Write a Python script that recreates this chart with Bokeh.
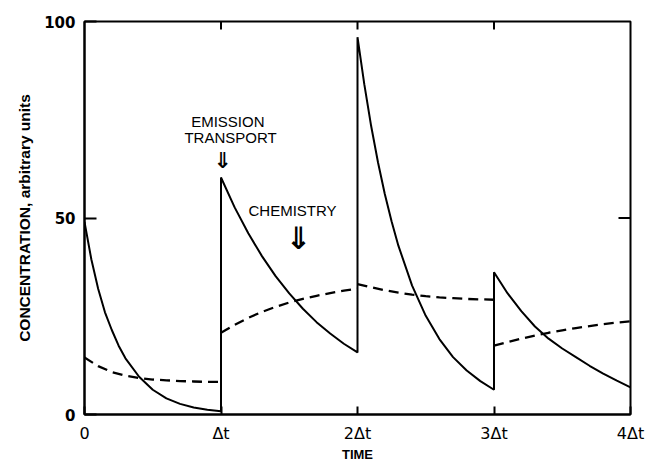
from bokeh.plotting import figure
from bokeh.models import Range1d, FixedTicker
from bokeh.embed import file_html
from bokeh.resources import INLINE
from bokeh.core.properties import value

# ---- data (time in units of Δt, concentration in arbitrary units) ----
solid_t0 = [0.0, 0.05, 0.1, 0.15, 0.2, 0.25, 0.3, 0.4, 0.5, 0.6, 0.7, 0.8, 0.9, 1.0]
solid_c0 = [49, 39.5, 32, 26, 21.5, 17.5, 14.3, 9.6, 6.3, 4.1, 2.7, 1.8, 1.2, 0.8]
solid_t1 = [1.0, 1.1, 1.2, 1.3, 1.4, 1.5, 1.6, 1.7, 1.8, 1.9, 2.0]
solid_c1 = [60.3, 52.7, 46.1, 40.3, 35.2, 30.8, 26.9, 23.5, 20.6, 18.0, 15.8]
solid_t2 = [2.0, 2.05, 2.1, 2.15, 2.2, 2.25, 2.3, 2.4, 2.5, 2.6, 2.7, 2.8, 2.9, 3.0]
solid_c2 = [96, 84, 73.4, 64.2, 56.1, 49.1, 42.9, 32.8, 25.1, 19.2, 14.6, 11.2, 8.5, 6.3]
solid_t3 = [3.0, 3.1, 3.2, 3.3, 3.4, 3.5, 3.6, 3.7, 3.8, 3.9, 4.0]
solid_c3 = [36.2, 30.8, 26.3, 22.4, 19.3, 16.8, 14.6, 12.4, 10.4, 8.6, 6.9]

dashed_t0 = [0.0, 0.1, 0.2, 0.3, 0.4, 0.5, 0.6, 0.7, 0.8, 0.9, 1.0]
dashed_c0 = [14.5, 12.3, 10.8, 9.9, 9.3, 8.9, 8.7, 8.5, 8.4, 8.3, 8.3]
dashed_t1 = [1.0, 1.1, 1.2, 1.3, 1.4, 1.5, 1.6, 1.7, 1.8, 1.9, 2.0]
dashed_c1 = [20.8, 22.8, 24.6, 26.1, 27.4, 28.5, 29.4, 30.2, 30.9, 31.5, 32.0]
dashed_t2 = [2.0, 2.1, 2.2, 2.3, 2.4, 2.5, 2.6, 2.7, 2.8, 2.9, 3.0]
dashed_c2 = [33.2, 32.4, 31.6, 31.0, 30.5, 30.1, 29.8, 29.6, 29.4, 29.3, 29.2]
dashed_t3 = [3.0, 3.1, 3.2, 3.3, 3.4, 3.5, 3.6, 3.7, 3.8, 3.9, 4.0]
dashed_c3 = [17.5, 18.4, 19.3, 20.1, 20.8, 21.4, 22.0, 22.5, 23.0, 23.4, 23.7]

x_ticks = [0, 1, 2, 3, 4]
x_tick_labels = ["0", "Δt", "2Δt", "3Δt", "4Δt"]
y_ticks = [0, 50, 100]

X_MIN, X_MAX = 0, 4
Y_MIN, Y_MAX = 0, 100

# ---- figure ----
W, H = 647, 465
BL, BR, BT, BB = 84, 17, 21, 51
p = figure(width=W, height=H, output_backend="svg", toolbar_location=None,
           x_range=Range1d(X_MIN, X_MAX), y_range=Range1d(Y_MIN, Y_MAX),
           min_border_left=BL, min_border_right=BR, min_border_top=BT, min_border_bottom=BB)
p.background_fill_color = "white"
p.border_fill_color = "white"
p.outline_line_color = "black"
p.outline_line_width = 2
p.xgrid.visible = False
p.ygrid.visible = False

# solid curve (with vertical jumps)
sx = solid_t0 + solid_t1 + solid_t2 + solid_t3
sy = solid_c0 + solid_c1 + solid_c2 + solid_c3
p.line(sx, sy, line_color="black", line_width=2)

# dashed curve (separate per interval)
p.multi_line([dashed_t0, dashed_t1, dashed_t2, dashed_t3],
             [dashed_c0, dashed_c1, dashed_c2, dashed_c3],
             line_color="black", line_width=2.3, line_dash="10 6")

# ---- axes ----
xa = p.xaxis[0]
xa.ticker = FixedTicker(ticks=x_ticks)
xa.major_label_overrides = {t: l for t, l in zip(x_ticks, x_tick_labels)}
xa.axis_label = "TIME"
ya = p.yaxis[0]
ya.ticker = FixedTicker(ticks=y_ticks)
ya.axis_label = "CONCENTRATION, arbitrary units"

for ax in (xa, ya):
    ax.axis_line_width = 2
    ax.axis_line_color = "black"
    ax.major_tick_out = 0
    ax.minor_tick_out = 0
    ax.minor_tick_in = 0
    ax.major_tick_line_width = 2
    ax.major_label_text_color = "black"
    ax.axis_label_text_color = "black"
    ax.axis_label_text_font_style = "bold"

xa.major_tick_in = 8
xa.major_label_standoff = 9
xa.major_label_text_font = "DejaVu Sans"
xa.major_label_text_font_size = "16px"
xa.axis_label_text_font = "Liberation Sans"
xa.axis_label_text_font_size = "13px"
xa.axis_label_standoff = 1

ya.major_tick_in = 12
ya.major_label_standoff = 9
ya.major_label_text_font = "DejaVu Sans"
ya.major_label_text_font_style = "bold"
ya.major_label_text_font_size = "15px"
ya.axis_label_text_font = "Liberation Sans"
ya.axis_label_text_font_size = "15.5px"
ya.axis_label_standoff = 8

# mirrored inward ticks on top and right (drawn as short segments)
frame_w = W - BL - BR
frame_h = H - BT - BB
top_len = 8 * (Y_MAX - Y_MIN) / frame_h
right_len = 12 * (X_MAX - X_MIN) / frame_w
top_x = [t for t in x_ticks if X_MIN < t < X_MAX]
p.segment(x0=top_x, y0=[Y_MAX] * len(top_x), x1=top_x, y1=[Y_MAX - top_len] * len(top_x),
          line_color="black", line_width=2)
right_y = [t for t in y_ticks if Y_MIN < t < Y_MAX]
p.segment(x0=[X_MAX] * len(right_y), y0=right_y, x1=[X_MAX - right_len] * len(right_y), y1=right_y,
          line_color="black", line_width=2)

# ---- annotations ----
p.text(x=[1.05, 1.07], y=[74.5, 70.4], text=["EMISSION", "TRANSPORT"],
       text_font=value("Liberation Sans"), text_font_size="15px",
       text_align="center", text_baseline="middle", text_color="black")
p.text(x=[1.01], y=[64.6], text=["⇓"], text_font=value("DejaVu Sans"), text_font_style="bold",
       text_font_size="22px", text_align="center", text_baseline="middle", text_color="black")
p.text(x=[1.524], y=[51.9], text=["CHEMISTRY"],
       text_font=value("Liberation Sans"), text_font_size="15px",
       text_align="center", text_baseline="middle", text_color="black")
p.text(x=[1.568], y=[45.0], text=["⇓"], text_font=value("DejaVu Sans"), text_font_style="bold",
       text_font_size="31px", text_align="center", text_baseline="middle", text_color="black")

open("out.html", "w").write(file_html(p, INLINE))
